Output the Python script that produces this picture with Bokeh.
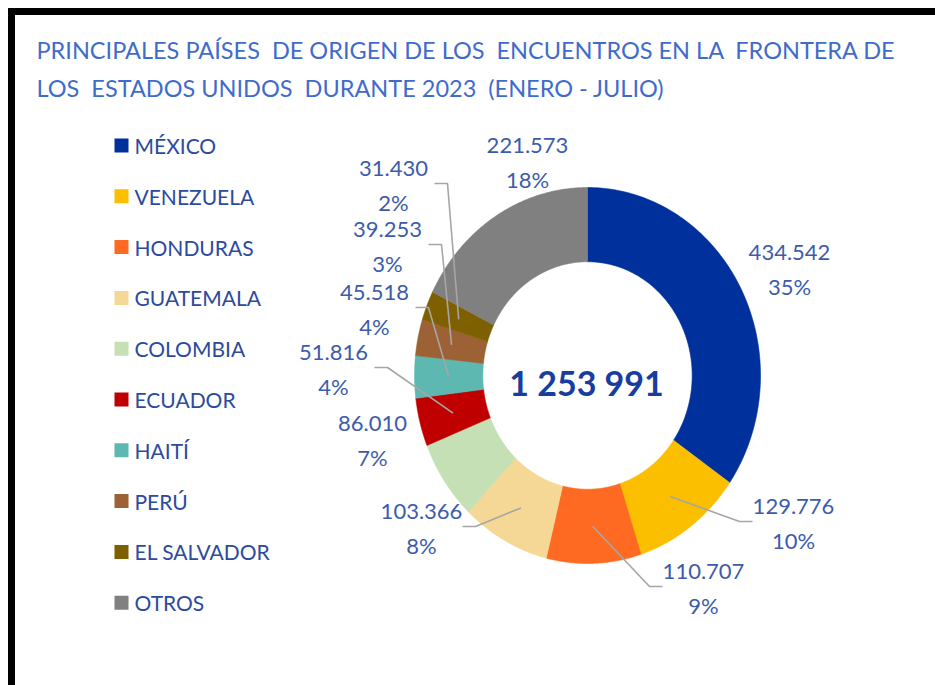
import numpy as np
from bokeh.plotting import figure
from bokeh.models import Range1d, ColumnDataSource
from bokeh.core.properties import value
from bokeh.embed import file_html
from bokeh.resources import INLINE

# ---- data ----
countries = ["MÉXICO", "VENEZUELA", "HONDURAS", "GUATEMALA", "COLOMBIA",
             "ECUADOR", "HAITÍ", "PERÚ", "EL SALVADOR", "OTROS"]
counts = [434542, 129776, 110707, 103366, 86010, 51816, 45518, 39253, 31430, 221573]
count_labels = ["434.542", "129.776", "110.707", "103.366", "86.010",
                "51.816", "45.518", "39.253", "31.430", "221.573"]
pct_labels = ["35%", "10%", "9%", "8%", "7%", "4%", "4%", "3%", "2%", "18%"]
total_label = "1 253 991"
NB = "\u00a0"
title_lines = ["PRINCIPALES PAÍSES " + NB + "DE ORIGEN DE LOS " + NB + "ENCUENTROS EN LA " + NB + "FRONTERA DE",
               "LOS " + NB + "ESTADOS UNIDOS " + NB + "DURANTE 2023 " + NB + "(ENERO - JULIO)"]

# ---- styles / layout ----
colors = ["#00309b", "#fbbf00", "#fe6a22", "#f6d896", "#c5e0b4",
          "#c00000", "#5cb8b1", "#9c6134", "#7f6000", "#808080"]
W, H = 935, 685
CX, CY = 587, 375          # donut centre (screen px)
RX, RY = 173, 188          # outer radii (image is stretched vertically)
HOLE = 0.605
# label block centres relative to donut centre (px)
lab_dx = [202, 206, 116, -166, -215, -254, -213, -200, -194, -60]
lab_dy = [-106, 148, 213, 153, 65, -6, -66, -129, -190, -213]
leader_side = [0, -1, -1, 1, 0, 1, 1, 1, 1, 0]   # +1 label left of leader, -1 right
FONT = "Lato"
TITLE_C = "#3f6ccb"
LAB_C = "#3c5cab"
LEG_C = "#2c4a9e"
TOT_C = "#173d9e"

p = figure(width=W, height=H, x_range=Range1d(0, W), y_range=Range1d(H, 0),
           output_backend="svg", toolbar_location=None, min_border=0)
p.axis.visible = False
p.grid.visible = False
p.outline_line_color = None
p.background_fill_color = "white"

# frame (top and left black bars of the cropped screenshot)
p.quad(left=[8, 8], right=[W, 14], top=[8, 8], bottom=[14, H], color="black")

# ---- donut wedges ----
vals = np.array(counts, dtype=float)
frac = vals / vals.sum()
cum = np.concatenate([[0], np.cumsum(frac)])
xs, ys = [], []
for i in range(len(vals)):
    a = np.linspace(cum[i], cum[i + 1], 120) * 2 * np.pi
    ox = CX + RX * np.sin(a); oy = CY - RY * np.cos(a)
    ix = CX + RX * HOLE * np.sin(a[::-1]); iy = CY - RY * HOLE * np.cos(a[::-1])
    xs.append(list(np.concatenate([ox, ix])))
    ys.append(list(np.concatenate([oy, iy])))
p.patches(xs=xs, ys=ys, fill_color=colors, line_color=colors, line_width=0.6)

# ---- leader lines ----
mid = (cum[:-1] + cum[1:]) / 2 * 2 * np.pi
rm = (1 + HOLE) / 2
lx, ly = [], []
for i in range(len(vals)):
    s = leader_side[i]
    if s == 0:
        continue
    bx = CX + lab_dx[i]; by = CY + lab_dy[i] - 2
    ax = bx + s * 41; ex = ax + s * 13
    sx = CX + RX * rm * np.sin(mid[i]); sy = CY - RY * rm * np.cos(mid[i])
    lx.append([ax, ex, sx]); ly.append([by, by, sy])
p.multi_line(xs=lx, ys=ly, line_color="#a6a6a6", line_width=1.6)

# ---- data labels ----
tx = [CX + d for d in lab_dx]
src1 = ColumnDataSource(dict(x=tx, y=[CY + d - 17 for d in lab_dy], t=count_labels))
src2 = ColumnDataSource(dict(x=tx, y=[CY + d + 17 for d in lab_dy], t=pct_labels))
for src in (src1, src2):
    p.text(x="x", y="y", text="t", source=src, text_font=value(FONT),
           text_font_size="22px", text_color=LAB_C, text_align="center",
           text_baseline="middle")

# ---- centre total ----
p.text(x=[CX - 1], y=[CY + 7], text=[total_label], text_font=value(FONT),
       text_font_size="34px", text_font_style="bold", text_color=TOT_C,
       text_align="center", text_baseline="middle")

# ---- title ----
p.text(x=[36, 36], y=[49, 87], text=title_lines, text_font=value(FONT),
       text_font_size="23.5px", text_color=TITLE_C, text_align="left",
       text_baseline="middle")

# ---- legend ----
leg_y = [145 + 50.8 * i for i in range(len(countries))]
p.rect(x=[121] * len(countries), y=leg_y, width=14, height=14,
       fill_color=colors, line_color=None)
p.text(x=[134] * len(countries), y=leg_y, text=countries, text_font=value(FONT),
       text_font_size="21px", text_color=LEG_C, text_align="left",
       text_baseline="middle")

open("out.html", "w").write(file_html(p, INLINE))
